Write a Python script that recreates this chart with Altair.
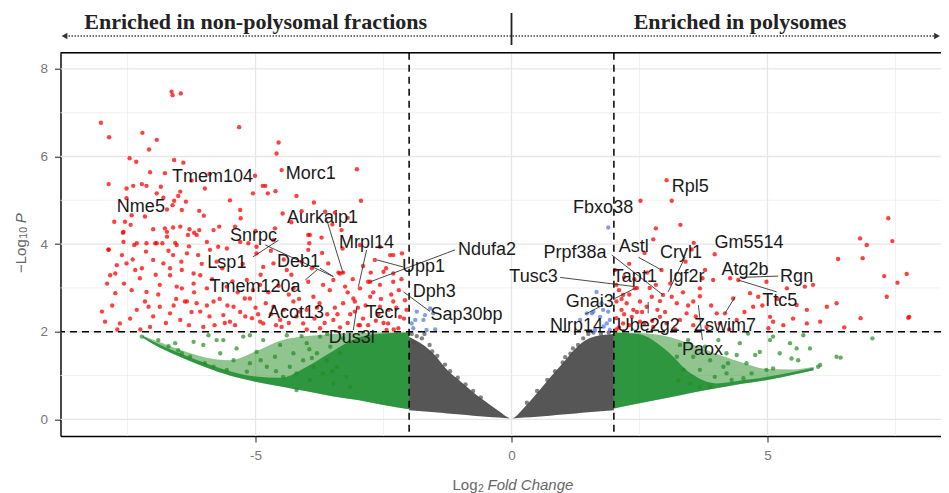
import altair as alt
import pandas as pd

# ---------------- data ----------------
X_DOMAIN = [-8.81, 8.39]
Y_DOMAIN = [-0.38, 8.37]
W, H = 880.5, 383.3

# significant (|log2FC|>2, p<0.01) -> red
red_points = [
    (-8.02, 6.77), (-7.86, 6.44), (-6.64, 7.48), (-6.62, 7.40), (-6.46, 7.44), (-5.32, 6.67), (-7.21, 6.54),
    (-6.93, 6.38), (-7.08, 6.16), (-4.55, 6.32), (-4.59, 6.07), (-7.46, 5.96), (-7.33, 5.88), (-6.59, 5.92),
    (-6.41, 5.86), (-4.49, 5.69), (-3.02, 5.71), (-7.06, 5.64), (-6.77, 5.62), (-5.01, 5.56), (-7.87, 5.37),
    (-7.52, 5.27), (-7.39, 5.33), (-7.22, 5.37), (-7.13, 5.33), (-6.85, 5.31), (-5.99, 5.27), (-5.05, 5.16),
    (-4.86, 5.33), (-4.81, 5.33), (-4.76, 5.16), (-4.61, 5.21), (-6.93, 5.16), (-6.47, 5.20), (-6.51, 5.10),
    (-7.52, 5.05), (-6.80, 5.06), (-6.59, 4.99), (-6.36, 4.97), (-2.94, 4.99), (-3.86, 4.95), (-6.62, 4.89),
    (-6.73, 4.79), (-6.44, 4.78), (-6.10, 4.76), (-5.30, 4.78), (-3.64, 4.74), (-3.45, 4.72), (-7.42, 4.66),
    (-7.16, 4.63), (-6.01, 4.65), (-5.29, 4.59), (-4.47, 4.70), (-7.76, 4.51), (-7.55, 4.51), (-7.44, 4.44),
    (-3.32, 4.32), (-3.94, 4.21), (-3.71, 4.15), (-7.59, 4.26), (-7.00, 4.34), (-6.77, 4.36), (-6.73, 4.28),
    (-6.61, 4.38), (-6.47, 4.40), (-6.29, 4.34), (-6.10, 4.32), (-5.82, 4.32), (-5.71, 4.40), (-6.32, 4.21),
    (-6.20, 4.26), (-4.62, 4.36), (-4.65, 4.09), (-7.58, 4.05), (-7.37, 3.98), (-7.13, 4.02), (-6.96, 4.02),
    (-6.82, 4.02), (-6.57, 4.03), (-5.95, 4.05), (-5.73, 3.94), (-5.14, 4.02), (-4.98, 3.94), (-7.87, 3.88),
    (-3.95, 4.02),
    (-7.58, 4.28), (-6.73, 4.17), (-6.15, 4.21), (-3.97, 4.21), (-7.87, 3.87), (-7.61, 3.75), (-7.32, 4.02),
    (-7.14, 3.83), (-6.93, 4.02), (-6.54, 3.98), (-6.34, 3.79), (-7.00, 3.64), (-6.80, 3.56), (-6.61, 3.75),
    (-6.12, 3.75), (-5.89, 3.87), (-5.56, 3.90), (-5.30, 4.05), (-7.71, 3.52), (-7.52, 3.56), (-7.35, 3.41),
    (-7.84, 3.29), (-7.22, 3.45), (-6.67, 3.29), (-6.44, 3.41), (-6.21, 3.33), (-5.76, 3.60), (-4.98, 3.79),
    (-4.85, 3.48), (-4.65, 3.56), (-4.39, 3.41), (-3.97, 3.87), (-3.58, 3.56), (-3.38, 3.35), (-3.29, 3.35),
    (-2.67, 3.64), (-2.37, 3.75), (-2.31, 3.33), (-2.57, 3.07), (-2.76, 3.14), (-2.96, 2.99), (-3.25, 3.03),
    (-3.48, 3.18), (-3.68, 3.07), (-3.97, 3.14), (-4.26, 2.99), (-4.91, 3.07), (-5.17, 3.18), (-5.56, 3.03),
    (-5.95, 2.99), (-6.21, 3.10), (-6.54, 3.03), (-6.87, 3.07), (-7.13, 2.91), (-7.42, 2.95), (-7.74, 2.88),
    (-8.00, 2.46), (-7.65, 2.19), (-7.32, 2.50), (-7.16, 2.69), (-6.87, 2.57), (-6.67, 2.42), (-6.47, 2.27),
    (-6.34, 2.69), (-6.08, 2.46), (-5.82, 2.69), (-5.63, 2.38), (-5.43, 2.57), (-5.21, 2.76), (-5.07, 2.31),
    (-4.85, 2.19), (-4.52, 2.27), (-4.26, 2.69), (-4.07, 2.19), (-3.87, 2.80), (-3.48, 2.27), (-3.29, 2.65),
    (-3.09, 2.76), (-3.06, 2.46), (-2.76, 2.80), (-2.57, 2.57), (-2.31, 2.69), (-2.18, 2.34), (-2.41, 2.19),
    (-4.13, 2.46), (-4.65, 2.57), (-6.02, 2.11), (-7.06, 2.11), (-2.96, 2.15),
    (-7.94, 2.23), (-7.74, 3.33), (-7.57, 3.10), (-7.26, 3.22), (-7.09, 2.57), (-6.67, 3.45), (-6.44, 2.99),
    (-6.38, 2.69), (-6.08, 3.29), (-5.50, 2.23), (-5.11, 2.76), (-4.91, 2.23), (-4.49, 2.11), (-3.74, 2.08),
    (-3.06, 2.69), (-2.99, 2.15), (-2.44, 2.04), (-2.21, 2.08), (-2.08, 2.72), (-2.31, 3.14), (-2.50, 3.37),
    (-3.35, 3.33), (-2.80, 3.14), (-2.14, 3.79), (-2.31, 3.75), (-2.57, 3.94), (-2.96, 3.98),
    (-2.10, 2.30), (-2.25, 2.55), (-2.35, 2.85), (-2.50, 2.20), (-2.60, 2.40), (-2.70, 2.90), (-2.85, 2.60),
    (-2.90, 2.30), (-3.15, 2.40), (-3.20, 2.90), (-3.35, 2.10), (-3.45, 2.55), (-3.60, 2.40), (-3.75, 2.65),
    (-3.85, 2.30), (-4.00, 2.50), (-4.20, 2.35), (-4.35, 2.85), (-4.45, 2.50), (-4.70, 2.40), (-4.75, 2.90),
    (-5.00, 2.55), (-5.30, 2.45), (-5.35, 2.90), (-5.60, 2.20), (-5.70, 2.75), (-5.90, 2.35), (-6.20, 2.90),
    (-6.30, 2.15), (-6.60, 2.60),
    (-7.90, 3.10), (-7.80, 2.60), (-7.70, 2.05), (-7.45, 2.30), (-7.40, 3.65), (-7.25, 2.05), (-7.00, 2.35),
    (-6.95, 3.30), (-6.90, 2.85), (-6.75, 2.20), (-6.70, 3.85), (-6.55, 2.75), (-6.45, 3.60), (-6.30, 3.95),
    (-6.25, 2.45), (-6.15, 2.65), (-6.05, 3.55), (-5.95, 2.60), (-5.85, 3.20), (-5.80, 2.15), (-5.65, 3.45),
    (-5.55, 2.60), (-5.45, 3.15), (-5.40, 2.15), (-5.25, 3.55), (-5.20, 2.35), (-5.05, 2.95), (-4.95, 2.40),
    (-4.90, 3.30), (-4.80, 2.65), (-4.70, 3.85), (-4.60, 2.15), (-4.55, 3.05), (-4.45, 3.65), (-4.35, 2.20),
    (-4.30, 3.30), (-4.15, 2.75), (-4.10, 3.60), (-4.00, 2.05), (-3.90, 3.45), (-3.80, 2.55), (-3.70, 3.80),
    (-3.65, 2.20), (-3.55, 2.95), (-3.40, 2.40), (-3.30, 3.90), (-3.20, 2.20), (-3.10, 3.20), (-3.00, 2.55),
    (-2.90, 3.50), (-2.80, 2.15), (-2.75, 3.35), (-2.65, 2.25), (-2.55, 2.75), (-2.45, 3.45), (-2.40, 2.50),
    (-2.30, 2.05), (-2.20, 2.95), (-2.15, 3.20), (-2.05, 2.50), (-5.00, 4.30), (-5.40, 4.40), (-4.30, 4.50),
    (-4.10, 4.75), (-3.50, 4.45), (-3.20, 4.60), (-5.50, 5.00), (-4.20, 5.10), (-5.90, 5.60), (-6.25, 5.45),
    (3.03, 5.46), (3.13, 4.99), (2.52, 4.99), (3.30, 4.44), (2.82, 4.36), (2.77, 4.11), (3.56, 4.03),
    (3.97, 3.77), (3.52, 3.88), (7.36, 4.59), (6.81, 4.13), (6.94, 3.98), (7.44, 4.07), (6.38, 3.66),
    (6.86, 3.68), (7.28, 3.27), (7.72, 3.32), (7.54, 3.12), (7.33, 2.80), (6.82, 2.31), (7.77, 2.34),
    (7.75, 2.32), (6.35, 2.65), (6.16, 2.57), (6.03, 2.23), (5.77, 2.50), (5.89, 3.07), (5.73, 3.03),
    (5.38, 2.99), (5.57, 2.61), (5.31, 2.15), (5.05, 2.34), (5.02, 2.08), (4.82, 2.80), (4.66, 2.88),
    (4.72, 2.57), (4.98, 3.14), (4.43, 3.18), (4.27, 3.22), (4.33, 2.76), (4.17, 2.42), (4.40, 2.27),
    (4.07, 2.19), (3.94, 3.18), (3.68, 2.99), (3.68, 2.81), (3.55, 2.69), (3.78, 3.41), (3.73, 3.22),
    (4.01, 2.42), (3.81, 2.11), (3.42, 2.42), (3.23, 2.65), (3.29, 2.27), (3.13, 2.80), (2.96, 2.84),
    (2.93, 3.41), (2.82, 3.07), (2.74, 2.80), (2.64, 2.57), (2.51, 2.69), (2.41, 2.99), (2.38, 2.50),
    (2.25, 2.65), (2.15, 2.50), (2.05, 2.69), (2.05, 2.31), (2.18, 2.19), (2.02, 3.41), (2.05, 3.07),
    (2.18, 2.84), (2.35, 2.34), (2.51, 2.23), (2.90, 2.34), (3.03, 2.19), (2.77, 2.11), (3.55, 2.15),
    (5.11, 2.23), (5.77, 2.19),
    (2.10, 2.10), (2.20, 2.40), (2.30, 2.85), (2.45, 2.45), (2.60, 2.20), (2.70, 3.00), (2.85, 2.50),
    (2.10, 2.95), (2.40, 3.20), (2.65, 3.35), (3.00, 2.45), (3.10, 3.10), (2.20, 3.25), (3.35, 2.90),
    (2.05, 2.05), (2.15, 2.75), (2.30, 2.15), (2.45, 3.00), (2.55, 2.45), (2.75, 2.25), (2.90, 2.70),
    (3.20, 2.05), (3.45, 2.60), (3.60, 2.35), (3.90, 2.60), (4.25, 2.05), (4.55, 2.45), (4.90, 2.60),
    (5.20, 2.75), (5.50, 2.30), (6.50, 2.10), (2.60, 3.80), (2.30, 3.55), (3.40, 3.60),
]

# |log2FC|>2, not significant -> green (sparse part)
green_points = [
    (-7.22, 1.89), (-6.90, 1.81), (-6.70, 1.67), (-6.51, 1.58), (-6.44, 1.51), (-6.28, 1.43), (-6.21, 1.77),
    (-6.02, 1.70), (-5.92, 1.92), (-5.99, 1.28), (-5.82, 1.20), (-5.69, 1.51), (-5.63, 1.81), (-5.56, 1.13),
    (-5.43, 1.35), (-5.37, 1.62), (-5.24, 1.89), (-5.17, 1.09), (-5.11, 1.28), (-4.98, 1.54), (-4.85, 1.81),
    (-4.78, 1.20), (-4.62, 1.43), (-4.52, 1.70), (-4.46, 0.97), (-4.39, 1.92), (-4.33, 1.20), (-4.26, 1.51),
    (-4.20, 1.05), (-4.07, 1.35), (-4.00, 1.74), (-3.94, 0.90), (-3.87, 1.20), (-3.80, 1.51), (-3.74, 1.89),
    (-3.68, 1.05), (-3.61, 1.35), (-3.54, 1.66), (-3.48, 0.82), (-3.41, 1.20), (-3.35, 1.51), (-3.29, 1.85),
    (-3.22, 0.97), (-3.15, 0.74), (-4.20, 0.67), (-5.11, 1.92), (-5.76, 1.81), (-6.57, 1.74),
    (-3.95, 1.60), (-4.10, 1.90), (-3.60, 1.95), (-3.90, 1.40), (-4.60, 1.10), (-4.90, 1.35), (-3.50, 1.10),
    (3.29, 1.70), (3.45, 1.81), (3.55, 1.43), (3.68, 1.13), (3.78, 1.66), (3.88, 1.35), (3.97, 0.97),
    (4.04, 1.81), (4.14, 1.20), (4.20, 1.51), (4.30, 0.90), (4.40, 1.47), (4.46, 1.74), (4.59, 1.28),
    (4.69, 1.05), (4.76, 1.47), (4.85, 1.54), (4.98, 1.13), (5.05, 1.81), (5.11, 1.16), (5.24, 1.51),
    (5.44, 1.74), (5.47, 1.39), (5.57, 1.62), (5.60, 1.35), (5.83, 1.62), (5.99, 1.20), (6.03, 1.24),
    (6.35, 1.43), (6.43, 1.41), (7.05, 1.85), (5.70, 1.92), (5.11, 1.89), (4.62, 1.96), (4.23, 1.28),
    (4.20, 1.05), (4.53, 0.94), (3.36, 1.13), (3.49, 0.82), (3.88, 0.74), (3.68, 0.74), (3.23, 1.43),
    (3.26, 0.89),
]

# |log2FC|<2, p<0.01 -> blue
blue_points = [
    (-1.95, 2.19), (-1.92, 2.08), (-1.88, 2.27), (-1.72, 2.27), (-1.69, 2.38), (-1.66, 2.04), (-1.59, 2.53),
    (-1.49, 2.05), (-1.53, 2.42), (-1.85, 2.46),
    (1.47, 2.42), (1.60, 2.46), (1.73, 2.34), (1.86, 2.19), (1.92, 2.27), (1.80, 2.12), (1.34, 2.27),
    (1.63, 2.04), (1.92, 2.04), (1.89, 2.46), (1.89, 4.38), (1.66, 2.91), (1.79, 2.50), (1.57, 2.42),
    (1.76, 2.65),
]

# not significant -> grey (ragged top of the dense cloud)
grey_points = [
    (-1.95, 1.95), (-1.85, 1.90), (-1.75, 1.85), (-1.70, 1.95), (-1.60, 1.70), (-1.55, 1.55), (-1.45, 1.45),
    (-1.30, 1.25), (-1.20, 1.10), (-1.05, 0.95), (-0.90, 0.80), (-0.75, 0.65), (-0.60, 0.50), (-1.90, 1.75),
    (0.30, 0.38), (0.50, 0.65), (0.70, 0.90), (0.85, 1.10), (1.00, 1.30), (1.15, 1.50), (1.30, 1.70),
    (1.40, 1.85), (1.50, 1.95), (1.60, 1.98), (1.75, 1.95), (1.90, 1.98), (1.20, 1.62), (1.05, 1.42),
]

# dense cores of the clouds: lower and upper edges
grey_core_x = [-2, -1.75, -1.5, -1.25, -1, -0.75, -0.5, -0.25, 0, 0.25, 0.5, 0.75, 1, 1.25, 1.5, 1.75, 2]
grey_core_lo = [0.21, 0.185, 0.16, 0.135, 0.11, 0.085, 0.06, 0.04, 0.02, 0.04, 0.06, 0.085, 0.11, 0.135, 0.16, 0.185, 0.21]
grey_core_hi = [1.88, 1.72, 1.47, 1.12, 0.87, 0.62, 0.40, 0.19, 0.02, 0.27, 0.60, 0.95, 1.28, 1.62, 1.84, 1.92, 1.95]

green_left_x = [-2, -2.5, -3, -3.5, -4, -4.5, -5, -5.5, -6, -6.5, -7, -7.2]
green_left_lo = [0.23, 0.33, 0.44, 0.53, 0.64, 0.75, 0.86, 1.00, 1.20, 1.44, 1.72, 1.86]
green_left_hi = [1.98, 1.96, 1.86, 1.55, 1.20, 0.95, 0.98, 1.10, 1.29, 1.52, 1.78, 1.90]
green_left_outer_hi = [1.98, 1.98, 1.97, 1.95, 1.90, 1.80, 1.55, 1.35, 1.42, 1.60, 1.82, 1.90]

green_right_x = [2, 2.5, 3, 3.5, 4, 4.5, 5, 5.5, 5.9]
green_right_lo = [0.25, 0.37, 0.48, 0.60, 0.71, 0.81, 0.90, 1.02, 1.12]
green_right_hi = [1.98, 1.94, 1.60, 1.05, 0.82, 0.89, 0.97, 1.08, 1.18]
green_right_outer_hi = [1.98, 1.97, 1.90, 1.72, 1.50, 1.30, 1.15, 1.14, 1.20]

fc_cutoffs = [-2, 2]
p_cutoffs = [2]
grid_major_x = [-5, 0, 5]
grid_minor_x = [-7.5, -2.5, 2.5, 7.5]
grid_major_y = [0, 2, 4, 6, 8]
grid_minor_y = [1, 3, 5, 7]

label_genes = ["Tmem104", "Nme5", "Morc1", "Aurkaip1", "Snrpc", "Mrpl14", "Ndufa2", "Lsp1", "Deb1", "Upp1",
               "Tmem120a", "Dph3", "Acot13", "Tecr", "Sap30bp", "Dus3l",
               "Rpl5", "Fbxo38", "Gm5514", "Astl", "Prpf38a", "Cryl1", "Atg2b", "Rgn", "Tusc3", "Tapt1",
               "Igf2r", "Ttc5", "Gnai3", "Nlrp14", "Ube2g2", "Zswim7", "Paox"]
label_x = [-5.84, -7.24, -3.92, -3.69, -5.04, -2.83, -0.48, -5.56, -4.16, -1.72,
           -5.01, -1.51, -4.21, -2.52, -0.88, -3.12,
           3.49, 1.79, 4.64, 2.39, 1.24, 3.31, 4.56, 5.57, 0.43, 2.41,
           3.42, 5.24, 1.53, 1.27, 2.67, 4.17, 3.73]
label_y = [5.53, 4.85, 5.59, 4.59, 4.19, 4.03, 3.87, 3.56, 3.60, 3.47,
           3.03, 2.90, 2.42, 2.42, 2.38, 1.85,
           5.31, 4.82, 4.03, 3.93, 3.79, 3.80, 3.42, 3.24, 3.24, 3.24,
           3.24, 2.70, 2.68, 2.13, 2.13, 2.13, 1.58]

leader_genes = ["Lsp1", "Snrpc", "Aurkaip1", "Mrpl14", "Ndufa2", "Upp1", "Deb1", "Tmem120a", "Sap30bp", "Dus3l",
                "Tusc3", "Prpf38a", "Astl", "Cryl1", "Gnai3", "Nlrp14", "Ube2g2", "Paox", "Zswim7", "Rgn", "Ttc5"]
leader_x1 = [-5.05, -4.81, -3.64, -2.83, -1.10, -2.63, -3.74, -4.03, -2.11, -3.09,
             0.95, 1.96, 2.48, 3.39, 2.02, 1.44, 2.67, 3.73, 4.17, 5.21, 5.18]
leader_y1 = [3.71, 3.98, 4.67, 3.87, 3.87, 3.64, 3.45, 3.18, 2.91, 2.04,
             3.24, 3.75, 3.70, 3.70, 2.76, 2.40, 2.42, 1.81, 2.42, 3.27, 2.91]
leader_x2 = [-4.55, -3.48, -3.29, -2.99, -2.76, -2.12, -3.48, -3.80, -1.59, -3.02,
             2.41, 2.96, 2.93, 3.06, 2.41, 1.79, 2.67, 3.65, 4.37, 4.46, 4.43]
leader_y2 = [4.09, 3.26, 3.34, 3.03, 3.14, 3.48, 3.26, 3.41, 2.46, 2.57,
             3.03, 2.84, 3.41, 2.91, 2.99, 2.61, 2.68, 2.61, 2.80, 3.24, 3.18]

header_texts = ["Enriched in non-polysomal fractions", "Enriched in polysomes"]

# ---------------- chart ----------------
LABEL_FONT = "Liberation Sans"
TICK_GREY = "#777777"
xs = alt.Scale(domain=X_DOMAIN, nice=False, zero=False)
ys = alt.Scale(domain=Y_DOMAIN, nice=False, zero=False)
x_axis = alt.Axis(values=grid_major_x, title=None, grid=False, domainColor="black", domainWidth=1.4,
                  tickColor="#333333", tickSize=6, tickWidth=1.1, labelFont=LABEL_FONT, labelFontSize=13.5,
                  labelColor=TICK_GREY, labelPadding=6, labelExpr="replace(datum.label, '\u2212', '-')")
y_axis = alt.Axis(values=grid_major_y, title=None, grid=False, domainColor="black", domainWidth=1.4,
                  tickColor="#333333", tickSize=6, tickWidth=1.1, labelFont=LABEL_FONT, labelFontSize=13.5,
                  labelColor=TICK_GREY, labelPadding=7)


def X(f="fc"):
    return alt.X(f"{f}:Q", scale=xs, axis=x_axis)


def Y(f="p"):
    return alt.Y(f"{f}:Q", scale=ys, axis=y_axis)


def pts(points):
    return pd.DataFrame(points, columns=["fc", "p"])


grid_x_major = alt.Chart(pd.DataFrame({"fc": grid_major_x})).mark_rule(color="#E6E6E6", strokeWidth=1.3).encode(x=X())
grid_x_minor = alt.Chart(pd.DataFrame({"fc": grid_minor_x})).mark_rule(color="#EEEEEE", strokeWidth=0.8).encode(x=X())
grid_y_major = alt.Chart(pd.DataFrame({"p": grid_major_y})).mark_rule(color="#E6E6E6", strokeWidth=1.3).encode(y=Y())
grid_y_minor = alt.Chart(pd.DataFrame({"p": grid_minor_y})).mark_rule(color="#EEEEEE", strokeWidth=0.8).encode(y=Y())


def core(xv, lo, hi, color, op):
    df = pd.DataFrame({"fc": xv, "lo": lo, "hi": hi})
    return alt.Chart(df).mark_area(color=color, opacity=op, interpolate="monotone").encode(
        x=X(), y=Y("lo"), y2="hi:Q")


grey_core = core(grey_core_x, grey_core_lo, grey_core_hi, "#4D4D4D", 0.95)
green_left_outer = core(green_left_x, green_left_lo, green_left_outer_hi, "#228B22", 0.5)
green_right_outer = core(green_right_x, green_right_lo, green_right_outer_hi, "#228B22", 0.5)
green_left = core(green_left_x, green_left_lo, green_left_hi, "#168a2c", 0.8)
green_right = core(green_right_x, green_right_lo, green_right_hi, "#168a2c", 0.8)

PSIZE = 19
grey_pts = alt.Chart(pts(grey_points)).mark_circle(color="#4D4D4D", opacity=0.7, size=PSIZE).encode(x=X(), y=Y())
green_pts = alt.Chart(pts(green_points)).mark_circle(color="#228B22", opacity=0.7, size=PSIZE).encode(x=X(), y=Y())
blue_pts = alt.Chart(pts(blue_points)).mark_circle(color="#4169E1", opacity=0.65, size=PSIZE).encode(x=X(), y=Y())
red_pts = alt.Chart(pts(red_points)).mark_circle(color="#FF0000", opacity=0.75, size=PSIZE).encode(x=X(), y=Y())

vcut = alt.Chart(pd.DataFrame({"fc": fc_cutoffs})).mark_rule(color="black", strokeWidth=1.5, strokeDash=[7, 5]).encode(x=X())
hcut = alt.Chart(pd.DataFrame({"p": p_cutoffs})).mark_rule(color="black", strokeWidth=1.5, strokeDash=[7, 5]).encode(y=Y())

leaders = alt.Chart(pd.DataFrame({"g": leader_genes, "x1": leader_x1, "y1": leader_y1, "x2": leader_x2, "y2": leader_y2})
                    ).mark_rule(color="#333333", strokeWidth=0.9).encode(x=X("x1"), y=Y("y1"), x2="x2:Q", y2="y2:Q")

labels = alt.Chart(pd.DataFrame({"gene": label_genes, "lx": label_x, "ly": label_y})).mark_text(
    font=LABEL_FONT, fontSize=18, color="#1a1a1a", baseline="middle", align="center").encode(
    x=X("lx"), y=Y("ly"), text="gene:N")

one = pd.DataFrame({"a": [0]})
top_border = alt.Chart(one).mark_rule(color="black", strokeWidth=1.4).encode(
    x=alt.value(0), x2=alt.value(W), y=alt.value(0))

# header
h1 = alt.Chart(one).mark_text(font="Liberation Serif", fontWeight="bold", fontSize=22, color="#222222",
                              align="center", baseline="alphabetic", text=header_texts[0]).encode(
    x=alt.value(195.2), y=alt.value(-24.2))
h2 = alt.Chart(one).mark_text(font="Liberation Serif", fontWeight="bold", fontSize=22, color="#222222",
                              align="center", baseline="alphabetic", text=header_texts[1]).encode(
    x=alt.value(679.5), y=alt.value(-24.2))
h_line = alt.Chart(one).mark_rule(color="#444444", strokeWidth=1.4, strokeDash=[1.5, 1.5]).encode(
    x=alt.value(5), x2=alt.value(876), y=alt.value(-16.7))
h_left = alt.Chart(one).mark_point(shape="triangle-left", filled=True, color="#333333", size=45, opacity=1).encode(
    x=alt.value(4), y=alt.value(-16.7))
h_right = alt.Chart(one).mark_point(shape="triangle-right", filled=True, color="#333333", size=45, opacity=1).encode(
    x=alt.value(876.5), y=alt.value(-16.7))
h_bar = alt.Chart(one).mark_rule(color="#222222", strokeWidth=1.8).encode(
    x=alt.value(451), y=alt.value(-39.7), y2=alt.value(-7.7))

# axis titles with sub-scripts / italics
TCOL = "#666666"
xt1 = alt.Chart(one).mark_text(font=LABEL_FONT, fontSize=15, color=TCOL, align="right", text="Log").encode(
    x=alt.value(417), y=alt.value(432.3))
xt2 = alt.Chart(one).mark_text(font=LABEL_FONT, fontSize=10.5, color=TCOL, align="left", text="2").encode(
    x=alt.value(417.5), y=alt.value(436))
xt3 = alt.Chart(one).mark_text(font=LABEL_FONT, fontSize=15, fontStyle="italic", color=TCOL, align="left",
                               text="Fold Change").encode(x=alt.value(427), y=alt.value(432.3))
yt1 = alt.Chart(one).mark_text(font=LABEL_FONT, fontSize=15, color=TCOL, align="left", angle=270,
                               text="\u2212Log").encode(x=alt.value(-39.5), y=alt.value(220.3))
yt2 = alt.Chart(one).mark_text(font=LABEL_FONT, fontSize=10.5, color=TCOL, align="left", angle=270,
                               text="10").encode(x=alt.value(-36.5), y=alt.value(186))
yt3 = alt.Chart(one).mark_text(font=LABEL_FONT, fontSize=15, fontStyle="italic", color=TCOL, align="left", angle=270,
                               text="P").encode(x=alt.value(-39.5), y=alt.value(170.5))

chart = alt.layer(
    grid_x_minor, grid_y_minor, grid_x_major, grid_y_major,
    green_left_outer, green_right_outer,
    grey_core, green_left, green_right,
    grey_pts, green_pts, blue_pts, red_pts,
    vcut, hcut, top_border,
    leaders, labels,
    h1, h2, h_line, h_left, h_right, h_bar,
    xt1, xt2, xt3, yt1, yt2, yt3,
).properties(
    width=W, height=H,
    padding={"left": 52.5, "top": 44.7, "right": 0, "bottom": 57},
    autosize=alt.AutoSizeParams(type="none"),
).configure_view(stroke=None).configure(background="white")

chart.save("out.html", embed_options={"renderer": "svg", "actions": False})
